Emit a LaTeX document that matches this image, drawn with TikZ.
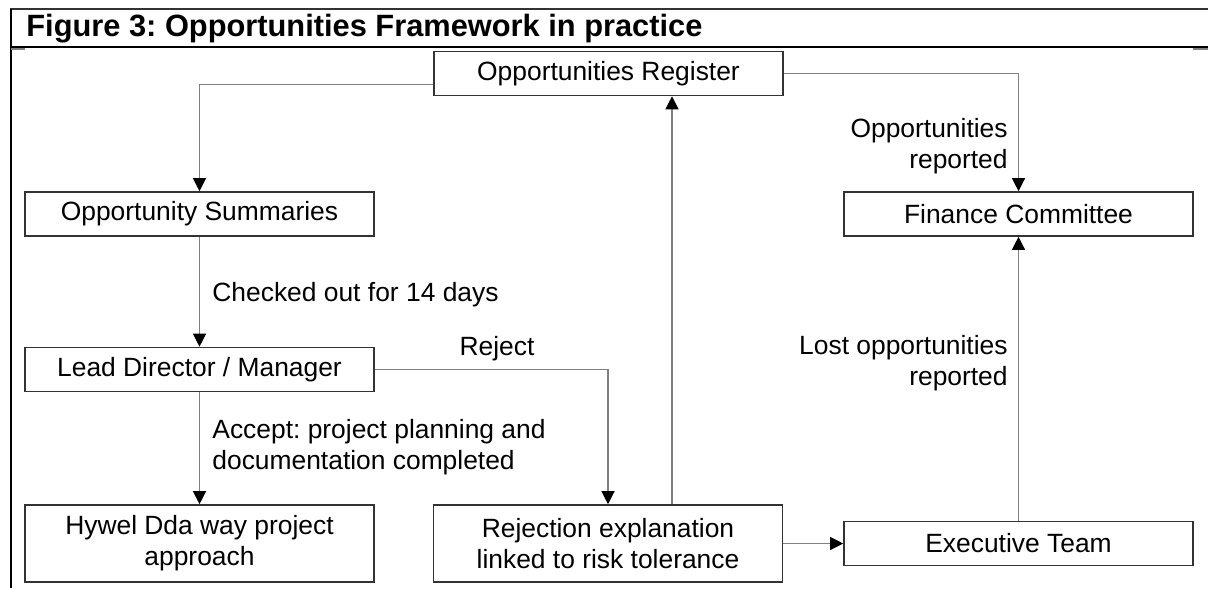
\documentclass[tikz,border=0pt]{standalone}
\usepackage{fontspec}
\setmainfont{Liberation Sans}
\usetikzlibrary{arrows.meta}
\definecolor{boxgrey}{HTML}{333333}
\definecolor{linegrey}{HTML}{808080}
\frenchspacing

\begin{document}
\begin{tikzpicture}[
    x=0.5pt, y=-0.5pt, % one unit per pixel, (0,0) at top left
    font=\fontsize{13.2}{15.5}\selectfont,
    box/.style={draw=boxgrey, line width=0.8pt, minimum width=174.5pt, minimum height=22pt, align=center, inner sep=2pt},
    tall/.style={box, minimum height=38.5pt},
    lbl/.style={inner sep=0pt, align=left},
    arr/.style={draw=linegrey, line width=0.6pt, -{Triangle[length=6.5pt, width=6.5pt, color=black]}}
]
\useasboundingbox (0,0) rectangle (1208,588);
% frame and title
\draw[boxgrey, line width=1pt] (10,9) -- (1208,9);
\draw[black, line width=0.8pt] (10,47) -- (1208,47);
\draw[black, line width=0.8pt] (11,9) -- (11,588);
\draw[linegrey, line width=0.8pt] (11,49) -- (25,49);
\draw[linegrey, line width=0.8pt] (1193,49) -- (1208,49);
\node[anchor=base west, inner sep=0pt, font=\fontsize{15.4}{18}\selectfont\bfseries] (title) at (26,37)
  {Figure 3: Opportunities Framework in practice};
% boxes
\node[box] (reg) at (608.5,73.5) {Opportunities Register};
\node[box] (summ) at (199.5,214) {Opportunity Summaries};
\node[box] (fin) at (1018.5,214) {Finance Committee};
\node[box] (lead) at (199.5,369.5) {Lead Director / Manager};
\node[tall] (hywel) at (199.5,543.5) {Hywel Dda way project\\approach};
\node[tall] (rej) at (608,543.5) {Rejection explanation\\linked to risk tolerance};
\node[box] (exec) at (1018.5,543.5) {Executive Team};
% labels
\node[lbl, anchor=west] (chk) at (212,295) {Checked out for 14 days};
\node[lbl] (rjt) at (497,349) {Reject};
\node[lbl, anchor=west] (acc) at (212,447) {Accept: project planning and\\documentation completed};
\node[lbl, anchor=east, align=right] (rep) at (1008,146) {Opportunities\\reported};
\node[lbl, anchor=east, align=right] (lost) at (1008,363) {Lost opportunities\\reported};
% connectors
\draw[arr] ([yshift=-5.5pt]reg.west) -| (summ.north);
\draw[arr] (reg.east) -| (fin.north);
\draw[arr] (summ) -- (lead);
\draw[arr] (lead.east) -| (rej.north);
\draw[arr] (lead) -- (hywel);
\draw[arr] ([xshift=32pt]rej.north) -- ([xshift=32pt]rej.north |- reg.south);
\draw[arr] (rej) -- (exec);
\draw[arr] (exec) -- (fin);
\end{tikzpicture}
\end{document}
